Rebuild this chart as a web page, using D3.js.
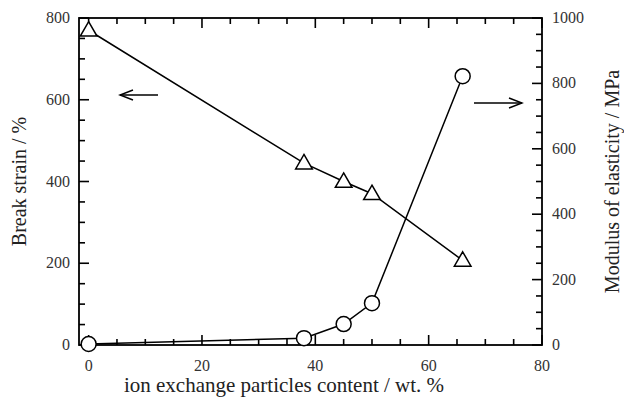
<!DOCTYPE html>
<html>
<head>
<meta charset="utf-8">
<script src="https://cdn.jsdelivr.net/npm/d3@7"></script>
<style>
  body { margin: 0; background: #fff; }
</style>
</head>
<body>
<script>
// data
var content = [0, 38, 45, 50, 66];
var breakStrain = [770, 445, 400, 370, 207];
var modulus = [3, 21, 64, 128, 822];

var xTicks = [0, 20, 40, 60, 80];
var yLeftTicks = [0, 200, 400, 600, 800];
var yRightTicks = [0, 200, 400, 600, 800, 1000];

function init(){
    var w = 624, h = 404;
    var left = 79, right = 542, top = 18, bottom = 345;
    var serif = "'Liberation Serif', 'DejaVu Serif', 'Noto Serif', 'Times New Roman', serif";

    var svg = d3.select("body").append("svg")
        .attr("width", w)
        .attr("height", h)
        .style("font-family", serif);

    var x = d3.scaleLinear().domain([-1.7, 80]).range([left, right]);
    var yL = d3.scaleLinear().domain([0, 800]).range([bottom, top]);
    var yR = d3.scaleLinear().domain([0, 1000]).range([bottom, top]);

    var minorX = d3.range(0, 81, 5);
    var minorL = d3.range(0, 801, 50);
    var minorR = d3.range(0, 1001, 50);

    var g = svg.append("g");

    // inward ticks, minor and major
    function ticks(vals, major, fn){
        vals.forEach(function(v){
            var len = (v % major === 0) ? 10 : 6;
            fn(v, len);
        });
    }
    ticks(minorX, 20, function(v, len){
        g.append("line").attr("x1", x(v)).attr("x2", x(v)).attr("y1", bottom).attr("y2", bottom - len);
        g.append("line").attr("x1", x(v)).attr("x2", x(v)).attr("y1", top).attr("y2", top + len);
    });
    ticks(minorL, 200, function(v, len){
        g.append("line").attr("x1", left).attr("x2", left + len).attr("y1", yL(v)).attr("y2", yL(v));
    });
    ticks(minorR, 200, function(v, len){
        g.append("line").attr("x1", right).attr("x2", right - len).attr("y1", yR(v)).attr("y2", yR(v));
    });
    g.selectAll("line").attr("stroke", "#000").attr("stroke-width", 1.6);

    // frame
    svg.append("rect")
        .attr("x", left).attr("y", top)
        .attr("width", right - left).attr("height", bottom - top)
        .attr("fill", "none").attr("stroke", "#000").attr("stroke-width", 1.8);

    // tick labels
    svg.selectAll(".xt").data(xTicks).enter().append("text")
        .attr("x", function(d){ return x(d); })
        .attr("y", 371)
        .attr("text-anchor", "middle")
        .attr("font-size", 16).attr("fill", "#333")
        .text(function(d){ return d; });
    svg.selectAll(".yl").data(yLeftTicks).enter().append("text")
        .attr("x", left - 9)
        .attr("y", function(d){ return yL(d) + 5; })
        .attr("text-anchor", "end")
        .attr("font-size", 16).attr("fill", "#333")
        .text(function(d){ return d; });
    svg.selectAll(".yr").data(yRightTicks).enter().append("text")
        .attr("x", right + 10)
        .attr("y", function(d){ return yR(d) + 5; })
        .attr("text-anchor", "start")
        .attr("font-size", 16).attr("fill", "#333")
        .text(function(d){ return d; });

    // axis titles
    svg.append("text")
        .attr("x", 284).attr("y", 392)
        .attr("text-anchor", "middle").attr("font-size", 21).attr("fill", "#222")
        .text("ion exchange particles content / wt. %");
    svg.append("text")
        .attr("transform", "translate(26," + ((top + bottom) / 2) + ") rotate(-90)")
        .attr("text-anchor", "middle").attr("font-size", 20).attr("fill", "#222")
        .text("Break strain / %");
    svg.append("text")
        .attr("transform", "translate(619," + ((top + bottom) / 2) + ") rotate(-90)")
        .attr("text-anchor", "middle").attr("font-size", 20).attr("fill", "#222")
        .text("Modulus of elasticity / MPa");

    // series lines
    var lineL = d3.line().x(function(d, i){ return x(content[i]); }).y(function(d){ return yL(d); });
    var lineR = d3.line().x(function(d, i){ return x(content[i]); }).y(function(d){ return yR(d); });

    svg.append("path").attr("d", lineL(breakStrain))
        .attr("fill", "none").attr("stroke", "#000").attr("stroke-width", 1.5);
    svg.append("path").attr("d", lineR(modulus))
        .attr("fill", "none").attr("stroke", "#000").attr("stroke-width", 1.5);

    // markers
    var tri = d3.symbol().type(d3.symbolTriangle).size(120);
    svg.selectAll(".tri").data(breakStrain).enter().append("path")
        .attr("d", tri)
        .attr("transform", function(d, i){ return "translate(" + x(content[i]) + "," + (yL(d) + 1) + ")"; })
        .attr("fill", "#fff").attr("stroke", "#000").attr("stroke-width", 1.5);
    svg.selectAll(".circ").data(modulus).enter().append("circle")
        .attr("cx", function(d, i){ return x(content[i]); })
        .attr("cy", function(d){ return yR(d); })
        .attr("r", 7.5)
        .attr("fill", "#fff").attr("stroke", "#000").attr("stroke-width", 1.5);

    // arrows indicating which axis
    function arrow(x1, x2, y){
        var dir = x2 > x1 ? 1 : -1;
        svg.append("line").attr("x1", x1).attr("x2", x2).attr("y1", y).attr("y2", y)
            .attr("stroke", "#000").attr("stroke-width", 1.4);
        svg.append("path")
            .attr("d", "M" + (x2 - dir * 13) + "," + (y - 5) + " L" + x2 + "," + y + " L" + (x2 - dir * 13) + "," + (y + 5))
            .attr("fill", "none").attr("stroke", "#000").attr("stroke-width", 1.4);
    }
    arrow(158, 120, 95);
    arrow(474, 522, 103);
}
window.onload = init;
</script>
</body>
</html>
